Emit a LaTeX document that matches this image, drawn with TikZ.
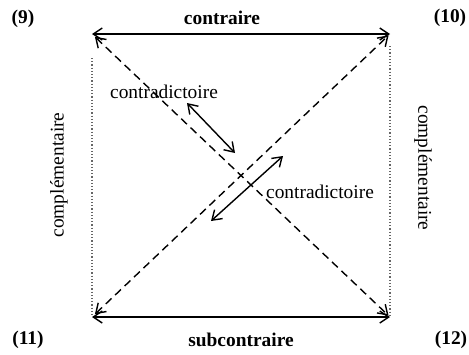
\documentclass[tikz,border=0pt]{standalone}
\usepackage{fontspec}
\setmainfont{Liberation Serif}
\usetikzlibrary{arrows.meta}

\begin{document}
\begin{tikzpicture}[x=0.5pt,y=-0.5pt,every node/.style={font=\fontsize{9.7}{11}\selectfont,inner sep=0pt},
  rel/.style={line width=0.7pt,{Straight Barb[length=4.5pt,width=6pt]}-{Straight Barb[length=4.5pt,width=6pt]}},
  diag/.style={rel,dash pattern=on 4pt off 2.5pt},
  dotline/.style={densely dotted,line width=0.6pt,gray!80!black},
  num/.style={font=\fontsize{9.7}{11}\selectfont\bfseries}]
\useasboundingbox (0,0) rectangle (469,354);
\coordinate (p9) at (92,34); \coordinate (p10) at (390,34);
\coordinate (p11) at (92,317); \coordinate (p12) at (390,317);
\node[num] (n9) at (23,19) {(9)}; \node[num] (n10) at (450,18) {(10)};
\node[num] (n11) at (28,340) {(11)}; \node[num] (n12) at (451,340) {(12)};
\node[num] (ctr) at (222,18) {contraire};
\node[num] (sub) at (241,340) {subcontraire};
\node[rotate=90] (cpl) at (59,175) {complémentaire};
\node[rotate=-90] (cpr) at (423,168) {complémentaire};
\node (cd1) at (164,92) {contradictoire};
\node (cd2) at (320,192) {contradictoire};
% sides
\draw[rel] (p9) -- (p10); \draw[rel] (p11) -- (p12);
\draw[dotline] ([yshift=-12pt]p9) -- ([yshift=1pt]p11);
\draw[dotline] ([yshift=-6pt]p10) -- (p12);
% diagonals
\draw[diag,shorten <=2pt,shorten >=1pt] (p9) -- (p12);
\draw[diag,shorten <=2pt,shorten >=1pt] (p11) -- (p10);
% small arrows
\coordinate (a1s) at (187,103); \coordinate (a1e) at (235,153);
\coordinate (a2s) at (283,156); \coordinate (a2e) at (211,221);
\draw[rel] (a1s) -- (a1e); \draw[rel] (a2s) -- (a2e);
\end{tikzpicture}
\end{document}
